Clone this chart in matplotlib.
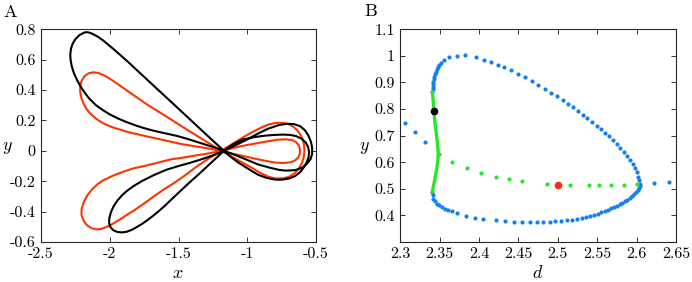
import matplotlib
matplotlib.use("Agg")
import matplotlib.pyplot as plt
import numpy as np

plt.rcParams['mathtext.fontset'] = 'cm'
plt.rcParams['axes.unicode_minus'] = False

# ---------------- Panel A data (traced orbits) ----------------
black_x = [-1.17, -1.25, -1.33, -1.41, -1.49, -1.57, -1.65, -1.73, -1.81, -1.87, -1.92, -1.965, -2.01,
           -2.05, -2.09, -2.13, -2.16, -2.185, -2.22, -2.25, -2.27, -2.282, -2.287, -2.285, -2.277, -2.262,
           -2.24, -2.21, -2.18, -2.15, -2.10, -2.05, -2.00, -1.94, -1.88, -1.82, -1.76, -1.70, -1.64,
           -1.58, -1.51, -1.44, -1.37, -1.30, -1.23, -1.17,
           -1.08, -1.00, -0.92, -0.84, -0.77, -0.72, -0.65, -0.60, -0.565, -0.54, -0.528, -0.528,
           -0.537, -0.555, -0.58, -0.615, -0.66, -0.71, -0.77, -0.85, -0.93, -1.01, -1.09, -1.17,
           -1.25, -1.33, -1.42, -1.50, -1.59, -1.68, -1.76, -1.82, -1.87, -1.91, -1.945, -1.972, -1.992,
           -2.003, -2.005, -1.995, -1.975, -1.945, -1.91, -1.875, -1.84, -1.80, -1.76, -1.72, -1.68,
           -1.64, -1.60, -1.56, -1.52, -1.47, -1.42, -1.36, -1.30, -1.235, -1.17,
           -1.10, -1.03, -0.95, -0.87, -0.80, -0.74, -0.69, -0.645, -0.605, -0.575, -0.557, -0.55,
           -0.555, -0.57, -0.59, -0.615, -0.65, -0.695, -0.75, -0.80, -0.86, -0.92, -0.99, -1.06,
           -1.12, -1.17]
black_y = [0.00, 0.067, 0.134, 0.202, 0.269, 0.336, 0.403, 0.470, 0.538, 0.588, 0.628, 0.664, 0.698,
           0.728, 0.753, 0.772, 0.781, 0.779, 0.762, 0.735, 0.705, 0.672, 0.635, 0.60, 0.56, 0.515,
           0.47, 0.42, 0.38, 0.345, 0.30, 0.268, 0.24, 0.213, 0.19, 0.17, 0.152, 0.137, 0.124,
           0.112, 0.098, 0.08, 0.06, 0.04, 0.02, 0.00,
           -0.03, -0.06, -0.09, -0.11, -0.125, -0.13, -0.127, -0.11, -0.085, -0.055, -0.02, 0.02,
           0.06, 0.10, 0.135, 0.162, 0.176, 0.178, 0.17, 0.145, 0.11, 0.07, 0.035, 0.00,
           -0.03, -0.055, -0.08, -0.10, -0.125, -0.16, -0.196, -0.228, -0.26, -0.292, -0.328, -0.365, -0.405,
           -0.445, -0.475, -0.502, -0.522, -0.534, -0.537, -0.532, -0.52, -0.50, -0.478, -0.452, -0.424,
           -0.394, -0.362, -0.328, -0.293, -0.25, -0.208, -0.16, -0.11, -0.055, 0.00,
           0.045, 0.075, 0.09, 0.10, 0.105, 0.107, 0.105, 0.097, 0.08, 0.055, 0.025, -0.01,
           -0.045, -0.08, -0.11, -0.14, -0.165, -0.182, -0.19, -0.189, -0.178, -0.158, -0.12, -0.08,
           -0.04, 0.00]

red_x = [-1.19, -1.27, -1.35, -1.43, -1.49, -1.56, -1.64, -1.72, -1.80, -1.88, -1.95, -2.00, -2.04,
         -2.08, -2.12, -2.155, -2.185, -2.205, -2.215, -2.215, -2.207, -2.19, -2.165, -2.13, -2.09,
         -2.04, -1.98, -1.92, -1.86, -1.78, -1.68, -1.58, -1.48, -1.38, -1.28, -1.19,
         -1.10, -1.00, -0.90, -0.80, -0.74, -0.69, -0.655, -0.63, -0.618, -0.617, -0.625, -0.645,
         -0.675, -0.72, -0.78, -0.87, -0.96, -1.05, -1.12, -1.19,
         -1.27, -1.37, -1.47, -1.56, -1.66, -1.75, -1.83, -1.91, -1.98, -2.05, -2.09, -2.13, -2.165,
         -2.19, -2.205, -2.205, -2.19, -2.165, -2.13, -2.095, -2.055, -2.015, -1.97, -1.92, -1.87,
         -1.82, -1.756, -1.68, -1.60, -1.538, -1.45, -1.37, -1.28, -1.19,
         -1.10, -1.02, -0.95, -0.89, -0.84, -0.79, -0.745, -0.705, -0.67, -0.64, -0.615, -0.597,
         -0.587, -0.584, -0.589, -0.602, -0.625, -0.655, -0.695, -0.74, -0.79, -0.84, -0.90, -0.96,
         -1.03, -1.11, -1.19]
red_y = [0.00, 0.045, 0.09, 0.135, 0.169, 0.21, 0.255, 0.30, 0.35, 0.40, 0.445, 0.475, 0.497,
         0.512, 0.517, 0.51, 0.49, 0.46, 0.425, 0.39, 0.35, 0.31, 0.27, 0.235, 0.205,
         0.178, 0.155, 0.138, 0.122, 0.105, 0.085, 0.065, 0.045, 0.03, 0.015, 0.00,
         -0.02, -0.04, -0.06, -0.077, -0.08, -0.076, -0.065, -0.045, -0.02, 0.01, 0.037, 0.058,
         0.071, 0.076, 0.073, 0.06, 0.045, 0.03, 0.015, 0.00,
         -0.015, -0.03, -0.045, -0.057, -0.08, -0.10, -0.116, -0.14, -0.165, -0.195, -0.22, -0.255, -0.295,
         -0.34, -0.385, -0.425, -0.46, -0.49, -0.51, -0.517, -0.512, -0.498, -0.476, -0.448, -0.418,
         -0.39, -0.35, -0.30, -0.25, -0.215, -0.16, -0.105, -0.05, 0.00,
         0.05, 0.095, 0.13, 0.157, 0.175, 0.184, 0.185, 0.178, 0.162, 0.138, 0.11, 0.075,
         0.04, 0.00, -0.04, -0.08, -0.118, -0.148, -0.17, -0.181, -0.182, -0.172, -0.148, -0.115,
         -0.08, -0.04, 0.00]

# ---------------- Panel B data ----------------
# stable periodic branch (blue dots), closed loop
loop_d = [2.3407, 2.3409, 2.3411, 2.3414, 2.3419, 2.3425, 2.3432, 2.3442, 2.3453, 2.3465, 2.3479,
          2.3495, 2.3512, 2.3555, 2.3618, 2.3724, 2.3817, 2.3961, 2.4067, 2.4156, 2.4240, 2.4321,
          2.4405, 2.4494, 2.4579, 2.4667, 2.4752, 2.4837, 2.4913, 2.4985, 2.5061, 2.5124, 2.5188,
          2.5256, 2.5315, 2.5374, 2.5433, 2.5493, 2.5548, 2.5599, 2.5654, 2.5700, 2.5747, 2.5793,
          2.5836, 2.5878, 2.5916, 2.5950, 2.5979, 2.6005, 2.6022, 2.6034, 2.6043, 2.6040, 2.6030,
          2.6012, 2.5990, 2.5966, 2.5940, 2.5912, 2.5882, 2.5850, 2.5818, 2.5785, 2.5751, 2.5713,
          2.5675, 2.5637, 2.5594, 2.5552, 2.5510, 2.5459, 2.5408, 2.5357, 2.5302, 2.5239, 2.5176,
          2.5112, 2.5040, 2.4968, 2.4896, 2.4816, 2.4731, 2.4647, 2.4549, 2.4448, 2.4333, 2.4211,
          2.4054, 2.3953, 2.3834, 2.3716, 2.3653, 2.3609, 2.3565, 2.3526, 2.3490, 2.3462, 2.3438,
          2.3419, 2.3410, 2.3406]
loop_y = [0.865, 0.875, 0.884, 0.894, 0.903, 0.912, 0.922, 0.931, 0.940, 0.949, 0.957,
          0.965, 0.972, 0.984, 0.9945, 1.0007, 1.0020, 0.9945, 0.9857, 0.9769, 0.9668, 0.9568,
          0.9455, 0.9329, 0.9204, 0.9053, 0.8890, 0.8739, 0.8601, 0.8476, 0.8338, 0.8199, 0.8061,
          0.7923, 0.7785, 0.7647, 0.7509, 0.7370, 0.7232, 0.7107, 0.6969, 0.6830, 0.6692, 0.6554,
          0.6403, 0.6253, 0.6102, 0.5951, 0.5788, 0.5625, 0.5462, 0.5323, 0.5198, 0.5120, 0.5048,
          0.4960, 0.4870, 0.4790, 0.4715, 0.4650, 0.4585, 0.4525, 0.4470, 0.4415, 0.4365, 0.4310,
          0.4260, 0.4210, 0.4160, 0.4110, 0.4065, 0.4020, 0.3980, 0.3945, 0.3905, 0.3875, 0.3845,
          0.3820, 0.3800, 0.3782, 0.3770, 0.3760, 0.3752, 0.3752, 0.3757, 0.3767, 0.3790, 0.3817,
          0.3867, 0.3918, 0.3993, 0.4100, 0.4156, 0.4194, 0.4250, 0.4318, 0.4385, 0.4446, 0.4530,
          0.4634, 0.4750, 0.4883]

# unstable periodic segment (green line)
green_d = [2.3407, 2.3415, 2.3424, 2.3430, 2.3440, 2.3452, 2.3465, 2.3475, 2.3482, 2.3478,
           2.3465, 2.3450, 2.3435, 2.3420, 2.3407]
green_y = [0.865, 0.840, 0.810, 0.780, 0.750, 0.720, 0.690, 0.660, 0.635, 0.610,
           0.580, 0.555, 0.530, 0.510, 0.488]

# unstable equilibria (green dots)
uneq_d = [2.3496, 2.3661, 2.3843, 2.4024, 2.4215, 2.4384, 2.4541, 2.4862, 2.5158, 2.5391,
          2.5527, 2.5675, 2.5836, 2.6005]
uneq_y = [0.6328, 0.6014, 0.5788, 0.5587, 0.5449, 0.5361, 0.5286, 0.5198, 0.5148, 0.5136,
          0.5136, 0.5136, 0.5148, 0.5173]

# stable equilibria (blue dots outside the loop)
steq_d = [2.3063, 2.3186, 2.3309, 2.6225, 2.6407]
steq_y = [0.7484, 0.7119, 0.6755, 0.5210, 0.5261]

hopf_d, hopf_y = [2.3428], [0.7934]
sel_d, sel_y = [2.5000], [0.5150]

# ticks
a_xticks = [-2.5, -2, -1.5, -1, -0.5]
a_xlabels = ['-2.5', '-2', '-1.5', '-1', '-0.5']
a_yticks = [-0.6, -0.4, -0.2, 0, 0.2, 0.4, 0.6, 0.8]
a_ylabels = ['-0.6', '-0.4', '-0.2', '0', '0.2', '0.4', '0.6', '0.8']
b_xticks = [2.3, 2.35, 2.4, 2.45, 2.5, 2.55, 2.6, 2.65]
b_xlabels = ['2.3', '2.35', '2.4', '2.45', '2.5', '2.55', '2.6', '2.65']
b_yticks = [0.4, 0.5, 0.6, 0.7, 0.8, 0.9, 1.0, 1.1]
b_ylabels = ['0.4', '0.5', '0.6', '0.7', '0.8', '0.9', '1', '1.1']

RED = '#ff3300'
BLUE = '#1380f2'
GREEN = '#2ae62a'

W, H = 692, 282
fig = plt.figure(figsize=(W / 100, H / 100), dpi=100)

def px_axes(l, r, t, b):
    return fig.add_axes([l / W, 1 - b / H, (r - l) / W, (b - t) / H])

axA = px_axes(41, 316, 29.3, 242)
axB = px_axes(400.3, 676, 29.3, 242)

tickfont = dict(family='cmr10', size=11.5)

for ax in (axA, axB):
    ax.tick_params(direction='in', top=True, right=True, length=3.5, width=0.7,
                   color='#333333', pad=4)
    for s in ax.spines.values():
        s.set_linewidth(0.8)
        s.set_color('#262626')

# Panel A
axA.plot(red_x, red_y, color=RED, lw=1.5, solid_joinstyle='round')
axA.plot(black_x, black_y, color='black', lw=1.5, solid_joinstyle='round')
axA.set_xlim(-2.5, -0.5)
axA.set_ylim(-0.6, 0.8)
axA.set_xticks(a_xticks)
axA.set_xticklabels(a_xlabels, fontdict=tickfont)
axA.set_yticks(a_yticks)
axA.set_yticklabels(a_ylabels, fontdict=tickfont)

# Panel B
axB.plot(green_d, green_y, color=GREEN, lw=2.4, solid_capstyle='round', zorder=3)
axB.plot(loop_d, loop_y, linestyle='none', marker='o', ms=3.0, mew=0,
         color=BLUE, zorder=2)
axB.plot(steq_d, steq_y, linestyle='none', marker='o', ms=3.0, mew=0, color=BLUE)
axB.plot(uneq_d, uneq_y, linestyle='none', marker='o', ms=3.0, mew=0, color=GREEN)
axB.plot(hopf_d, hopf_y, linestyle='none', marker='o', ms=5.5, mew=0, color='black', zorder=5)
axB.plot(sel_d, sel_y, linestyle='none', marker='o', ms=5.5, mew=0, color='#ff2a10', zorder=5)
axB.set_xlim(2.3, 2.65)
axB.set_ylim(0.3, 1.1)
axB.set_xticks(b_xticks)
axB.set_xticklabels(b_xlabels, fontdict=tickfont)
axB.set_yticks(b_yticks)
axB.set_yticklabels(b_ylabels, fontdict=tickfont)

# labels
fig.text(178 / W, 1 - 278.5 / H, r'$x$', fontsize=13, ha='center', va='baseline')
fig.text(7 / W, 1 - 147 / H, r'$y$', fontsize=13, ha='center', va='center')
fig.text(538 / W, 1 - 277.5 / H, r'$d$', fontsize=13, ha='center', va='baseline')
fig.text(364 / W, 1 - 147 / H, r'$y$', fontsize=13, ha='center', va='center')
fig.text(10 / W, 1 - 12 / H, 'A', family='cmr10', fontsize=13, ha='center', va='center')
fig.text(371 / W, 1 - 11 / H, 'B', family='cmr10', fontsize=13, ha='center', va='center')

fig.savefig('out.png', dpi=100)
